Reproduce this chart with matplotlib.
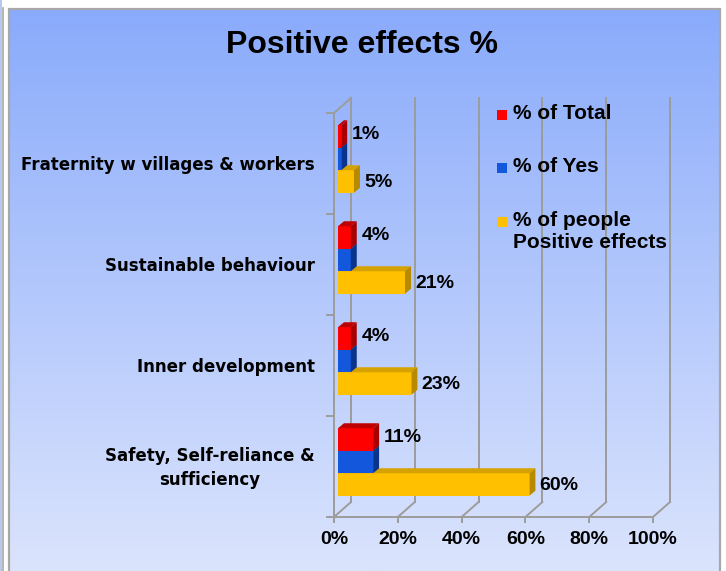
import matplotlib
matplotlib.use("Agg")
import matplotlib.pyplot as plt
import numpy as np
from matplotlib.patches import Polygon, Rectangle

# Dati (dal basso verso l'alto)
categorie = ["Safety, Self-reliance &\nsufficiency", "Inner development",
             "Sustainable behaviour", "Fraternity w villages & workers"]
pct_total = [11, 4, 4, 1]
pct_yes = [11, 4, 4, 1]
pct_people = [60, 23, 21, 5]
serie = ["% of Total", "% of Yes", "% of people\nPositive effects"]
x_ticks = [0, 20, 40, 60, 80, 100]
x_tick_labels = [f"{t}%" for t in x_ticks]

# Colori: fronte, sopra, lato
col_red = ("#FF0000", "#C00000", "#A80000")
col_blue = ("#1358DC", "#0C3FA8", "#0A348C")
col_yel = ("#FFC000", "#D6A200", "#B88A00")

W, H = 726, 571
fig = plt.figure(figsize=(W / 100, H / 100), dpi=100)
fig.patch.set_facecolor("white")


def fx(px):
    return px / W


def fy(py):
    return 1 - py / H


# Sfondo con gradiente
bg = fig.add_axes([fx(9), 0, fx(719) - fx(9), fy(9)], zorder=0)
grad = np.linspace(0, 1, 256)[:, None]
top = np.array([0x8A, 0xAB, 0xFB]) / 255
bot = np.array([0xDB, 0xE4, 0xFD]) / 255
img = top[None, None, :] * (1 - grad[:, :, None]) + bot[None, None, :] * grad[:, :, None]
bg.imshow(img, aspect="auto", extent=[0, 1, 0, 1])
bg.set_axis_off()
# bordo del pannello
fig.patches.append(Rectangle((fx(8.5), -0.01), fx(720) - fx(8.5), fy(8.5) + 0.01,
                             transform=fig.transFigure, fill=False,
                             edgecolor="#A8A8A8", linewidth=1.6, zorder=1))
fig.patches.append(Rectangle((0, 0), fx(1.5), 1, transform=fig.transFigure,
                             facecolor="#B8C8EE", edgecolor="none", zorder=1))
fig.lines.append(plt.Line2D([fx(2.5), fx(2.5)], [0, fy(8)], transform=fig.transFigure,
                            color="#A8A8A8", linewidth=1.2, zorder=1))

# Assi principali (piano frontale)
ax = fig.add_axes([fx(334), fy(517), fx(653) - fx(334), fy(113) - fy(517)], zorder=2)
ax.set_xlim(0, 100)
ax.set_ylim(-0.5, 3.5)
ax.set_axis_off()
ax.patch.set_alpha(0)

px_x = 100 / 319   # unità per pixel in x
px_y = 4 / 404     # unità per pixel in y
WX, WY = 17 * px_x, 15 * px_y    # profondità pareti
OX, OY = 4 * px_x, 4.5 * px_y    # piano delle barre
BX, BY = 6 * px_x, 5 * px_y      # profondità barre
BH = 22.5 * px_y                 # altezza barra

grid_kw = dict(color="#9C9C9C", linewidth=1.4, clip_on=False, zorder=1)
# pareti e griglia
for t in x_ticks:
    ax.plot([t + WX, t + WX], [-0.5 + WY, 3.5 + WY], **grid_kw)
    ax.plot([t, t + WX], [-0.5, -0.5 + WY], **grid_kw)
    ax.plot([t, t], [-0.5, -0.5 - 5 * px_y], **grid_kw)
ax.plot([0, 100], [-0.5, -0.5], **grid_kw)
ax.plot([0, 0], [-0.5, 3.5], **grid_kw)
ax.plot([0, WX], [3.5, 3.5 + WY], **grid_kw)
for b in np.arange(-0.5, 4.0, 1.0):
    ax.plot([0, -7 * px_x], [b, b], **grid_kw)


def bar3d(y, v, cols, z):
    left, right = OX, OX + v
    b, t = y - BH / 2, y + BH / 2
    ax.barh(y, v, left=left, height=BH, color=cols[0], zorder=z, clip_on=False)
    ax.add_patch(Polygon([(left, t), (right, t), (right + BX, t + BY), (left + BX, t + BY)],
                         closed=True, facecolor=cols[1], edgecolor="none", zorder=z, clip_on=False))
    ax.add_patch(Polygon([(right, b), (right + BX, b + BY), (right + BX, t + BY), (right, t)],
                         closed=True, facecolor=cols[2], edgecolor="none", zorder=z, clip_on=False))


lbl_kw = dict(fontsize=14, fontweight="bold", family="Liberation Sans",
              va="center", ha="left", clip_on=False, zorder=10)
for i in range(len(categorie)):
    c = i + OY
    bar3d(c - BH, pct_people[i], col_yel, 3)
    bar3d(c, pct_yes[i], col_blue, 4)
    bar3d(c + BH, pct_total[i], col_red, 5)
    ax.text(OX + pct_total[i] + BX + 5 * px_x, c + BH + 2 * px_y, f"{pct_total[i]}%", **lbl_kw)
    ax.text(OX + pct_people[i] + BX + 4 * px_x, c - BH - 1 * px_y, f"{pct_people[i]}%", **lbl_kw)
    # etichette categorie
    ax.text(-19 * px_x, i - 1.5 * px_y, categorie[i], fontsize=12, fontweight="bold",
            family="DejaVu Sans", ha="right", va="center", multialignment="center",
            linespacing=1.45, clip_on=False)

# etichette asse x
for t, lab in zip(x_ticks, x_tick_labels):
    ax.text(t, -0.5 - 23 * px_y, lab, fontsize=14, fontweight="bold",
            family="Liberation Sans", ha="center", va="center", clip_on=False)

# legenda
leg_y = [115, 168, 222]
for (name, cols, y) in zip(serie, [col_red, col_blue, col_yel], leg_y):
    fig.patches.append(Rectangle((fx(497), fy(y + 5)), fx(10), fy(0) - fy(10),
                                 transform=fig.transFigure, facecolor=cols[0],
                                 edgecolor="none", zorder=5))
    fig.text(fx(513), fy(y - 11), name, fontsize=15, fontweight="bold",
             family="Liberation Sans", ha="left", va="top", linespacing=1.2, zorder=5)

# titolo
fig.text(fx(362), fy(45), "Positive effects %", fontsize=23, fontweight="bold",
         family="Liberation Sans", ha="center", va="center", zorder=5)

fig.savefig("out.png", dpi=100)
